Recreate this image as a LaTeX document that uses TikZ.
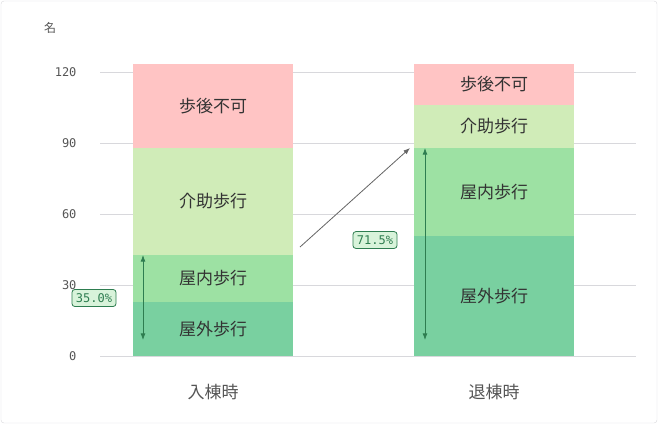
\documentclass[tikz,border=0pt]{standalone}
\usepackage{fontspec}
\setmainfont{Noto Sans CJK JP}
\newfontfamily\numfont{DejaVu Sans Mono}
\usetikzlibrary{arrows.meta}
\definecolor{cNG}{HTML}{FFC4C4}
\definecolor{cHelp}{HTML}{D0ECB8}
\definecolor{cIn}{HTML}{9DE1A3}
\definecolor{cOut}{HTML}{79D0A0}
\definecolor{cDark}{HTML}{2E7D50}
\definecolor{cGrid}{HTML}{D8D8DC}
\definecolor{cText}{HTML}{555555}
\tikzset{
  seg/.style={font=\fontsize{17}{17}\selectfont, text=black!80},
  tick/.style={font=\numfont\fontsize{12}{12}\selectfont, text=cText, anchor=east},
  pct/.style={draw=cDark, fill=cIn!40, rounded corners=3pt, thick, text=cDark,
    font=\numfont\fontsize{12}{12}\selectfont, inner sep=4pt},
  span/.style={{Latex}-{Latex}, cDark, thick}
}
\begin{document}
\begin{tikzpicture}[x=1pt,y=-1pt]
  \useasboundingbox (0,0) rectangle (658,424);
  \draw[cGrid, rounded corners=3pt] (1,1) rectangle (657,423);

  % grid and ticks
  \foreach \v/\y in {0/356,30/285,60/214,90/143,120/72}{
    \draw[cGrid] (100,\y) -- (636,\y);
    \node[tick] at (80,\y) {\v};
  }
  \node[font=\fontsize{12}{12}\selectfont, text=cText] (unit) at (50,28) {名};

  % left bar
  \fill[cOut]  (133,356) rectangle (293,302);
  \fill[cIn]   (133,302) rectangle (293,255);
  \fill[cHelp] (133,255) rectangle (293,148);
  \fill[cNG]   (133,148) rectangle (293,64);
  \node[seg] (lOut)  at (213,329) {屋外歩行};
  \node[seg] (lIn)   at (213,278) {屋内歩行};
  \node[seg] (lHelp) at (213,201) {介助歩行};
  \node[seg] (lNG)   at (213,106) {歩後不可};

  % right bar
  \fill[cOut]  (414,356) rectangle (574,236);
  \fill[cIn]   (414,236) rectangle (574,148);
  \fill[cHelp] (414,148) rectangle (574,105);
  \fill[cNG]   (414,105) rectangle (574,64);
  \node[seg] (rOut)  at (494,296) {屋外歩行};
  \node[seg] (rIn)   at (494,192) {屋内歩行};
  \node[seg] (rHelp) at (494,126) {介助歩行};
  \node[seg] (rNG)   at (494,84)  {歩後不可};

  \node[seg, text=cText] (before) at (213,392) {入棟時};
  \node[seg, text=cText] (after)  at (494,392) {退棟時};

  % spans
  \coordinate (lTop) at (143,255);
  \coordinate (lBot) at (143,340);
  \draw[span] (lBot) -- (lTop);
  \node[pct] (lPct) at (94,298) {35.0\%};

  \coordinate (rTop) at (425,148);
  \coordinate (rBot) at (425,340);
  \draw[span] (rBot) -- (rTop);
  \node[pct] (rPct) at (375,240) {71.5\%};

  \coordinate (jFrom) at (300,247);
  \coordinate (jTo) at (410,148);
  \draw[-{Latex}, black!60, thick] (jFrom) -- (jTo);
\end{tikzpicture}
\end{document}
